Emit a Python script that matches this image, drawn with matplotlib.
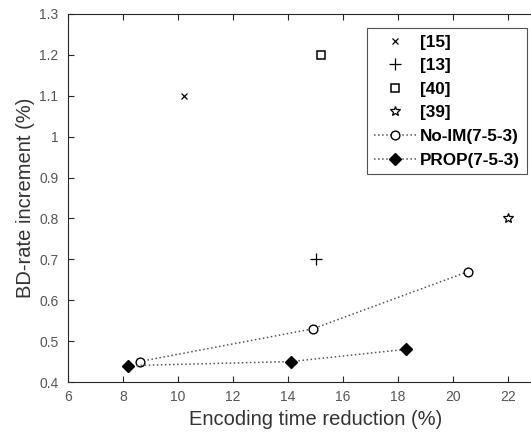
import matplotlib.pyplot as plt

plt.rcParams['font.family'] = ['Liberation Sans', 'DejaVu Sans']

# data
ref15_x, ref15_y = [10.2], [1.10]
ref13_x, ref13_y = [15.0], [0.70]
ref40_x, ref40_y = [15.2], [1.20]
ref39_x, ref39_y = [22.0], [0.80]
noim_x = [8.6, 14.9, 20.55]
noim_y = [0.45, 0.53, 0.67]
prop_x = [8.2, 14.1, 18.3]
prop_y = [0.44, 0.45, 0.48]

xticks = [6, 8, 10, 12, 14, 16, 18, 20, 22]
yticks = [0.4, 0.5, 0.6, 0.7, 0.8, 0.9, 1.0, 1.1, 1.2, 1.3]
ytick_labels = ['0.4', '0.5', '0.6', '0.7', '0.8', '0.9', '1', '1.1', '1.2', '1.3']

fig = plt.figure(figsize=(5.31, 4.34), dpi=100)
ax = fig.add_axes([68 / 531, 52 / 434, 495 / 531, 368 / 434])

ax.plot(ref15_x, ref15_y, 'x', color='k', markersize=5, mew=0.9, label='[15]')
ax.plot(ref13_x, ref13_y, '+', color='k', markersize=8, mew=0.9, label='[13]')
ax.plot(ref40_x, ref40_y, 's', color='k', mfc='none', markersize=5.5, mew=1.1, label='[40]')
ax.plot(ref39_x, ref39_y, '*', color='k', mfc='none', markersize=7, mew=0.9, label='[39]')
ax.plot(noim_x, noim_y, ':', color='#555555', lw=1.1, marker='o', mfc='white',
        mec='k', markersize=6.3, mew=1.0, label='No-IM(7-5-3)')
ax.plot(prop_x, prop_y, ':', color='#555555', lw=1.1, marker='D', mfc='k',
        mec='k', markersize=6, label='PROP(7-5-3)')

ax.set_xlim(6, 24)
ax.set_ylim(0.4, 1.3)
ax.set_xticks(xticks)
ax.set_yticks(yticks)
ax.set_yticklabels(ytick_labels)
ax.tick_params(direction='in', top=True, right=True, length=4, width=0.8,
               labelsize=10, colors='#262626', labelcolor='#555555')
ax.tick_params(axis='x', pad=6)
ax.tick_params(axis='y', pad=7)
for s in ax.spines.values():
    s.set_color('#262626')
    s.set_linewidth(0.8)

ax.set_xlabel('Encoding time reduction (%)', fontsize=14.5, color='#333333', labelpad=4)
ax.set_ylabel('BD-rate increment (%)', fontsize=14.5, color='#333333', labelpad=3)

leg = ax.legend(loc='upper left', bbox_to_anchor=(367 / 531, 1 - 28 / 434),
                bbox_transform=fig.transFigure, frameon=True, fancybox=False,
                edgecolor='#262626', prop={'weight': 'bold', 'size': 12.3},
                handlelength=2.5, borderpad=0.4, labelspacing=0.5,
                handletextpad=0.2, borderaxespad=0)
leg.get_frame().set_linewidth(0.8)

fig.savefig('out.png', dpi=100)
